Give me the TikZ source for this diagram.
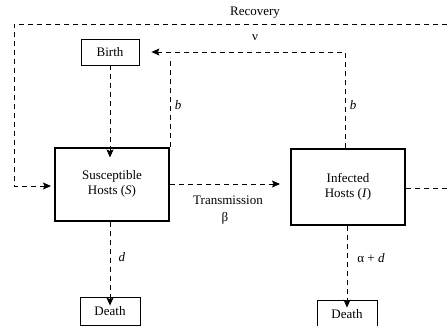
\documentclass[tikz,border=0pt]{standalone}
\usepackage{fontspec}
\setmainfont{Liberation Serif}
\usetikzlibrary{arrows.meta}
\begin{document}
\begin{tikzpicture}[x=1pt,y=-1pt,font=\fontsize{13}{15}\selectfont,
  box/.style={draw,line width=0.8pt,minimum width=58pt,minimum height=26pt,inner sep=0pt},
  host/.style={draw,line width=2pt,minimum width=114pt,minimum height=73pt,align=center,inner sep=0pt},
  flow/.style={line width=0.9pt,dash pattern=on 5pt off 4pt},
  tip/.style={-{Stealth[length=8pt,width=7pt,inset=1.5pt]}}]
        \useasboundingbox (0,0) rectangle (447,325);
        \node[box] (birth) at (110,52) {Birth};
        \node[host] (S) at (112,184) {Susceptible\\Hosts (\textit{S})};
        \node[host,minimum height=76pt] (I) at (348,187) {Infected\\Hosts (\textit{I})};
        \node[box,minimum width=60pt,minimum height=28pt] (deathS) at (110,311) {Death};
        \node[box,minimum width=60pt,minimum height=28pt] (deathI) at (347,314) {Death};

        \def\ytop{24} \def\yb{52}
        \coordinate (rec) at (447,\ytop);
        \coordinate (out) at (447,188);

        % recovery loop
        \draw[flow,tip] (rec) -- (14,\ytop) -- (14,186) -- ([xshift=-3pt]S.west |- 0,186);
        \node (recl) at (255,13) {Recovery};
        \node (nu) at (255,38) {ν};
        % births
        \draw[flow,tip] (birth.south) -- ([yshift=-11pt]S.north -| birth.south);
        \draw[flow] (S.north east) -- (S.north east |- 0,60);
        \draw[flow,tip] (I.north -| 345,0) -- (345,\yb) -- ([xshift=12pt]birth.east);
        \node (bS) at (178,105) {\textit{b}};
        \node (bI) at (353,105) {\textit{b}};
        % transmission
        \draw[flow,tip] (S.east |- 0,184) -- ([xshift=-10pt]I.west |- 0,184);
        \node (tr) at (228,200) {Transmission};
        \node (beta) at (225,218) {β};
        \draw[flow] (I.east |- 0,188) -- (out);
        % deaths
        \draw[flow,tip] (S.south -| deathS.north) -- ([yshift=-9pt]deathS.north);
        \draw[flow,tip] (I.south -| deathI.north) -- ([yshift=-8pt]deathI.north);
        \node (d) at (122,257) {\textit{d}};
        \node (ad) at (371,258) {α + \textit{d}};
      \end{tikzpicture}
\end{document}
